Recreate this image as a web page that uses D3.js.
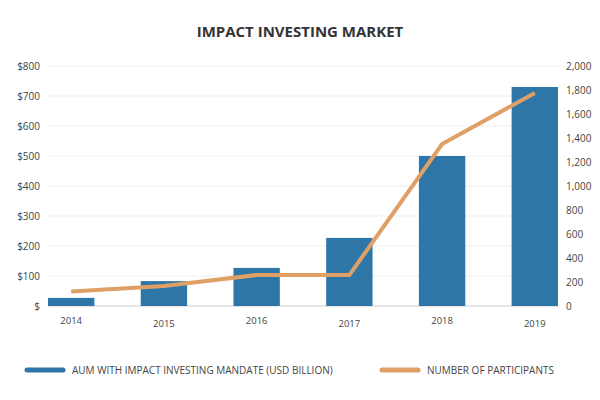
<!DOCTYPE html><html><head><meta charset="utf-8"><script src="https://d3js.org/d3.v7.min.js"></script>
<style>body{margin:0;background:#fff}text{font-family:"Open Sans",Lato,sans-serif}</style></head><body><svg width="600" height="400"></svg>
<script>
const years=["2014","2015","2016","2017","2018","2019"];
const aum=[27,83,127,227,500,730];
const participants=[120,167,258,258,1350,1775];
const leftTicks=[0,100,200,300,400,500,600,700,800];
const rightTicks=[0,200,400,600,800,1000,1200,1400,1600,1800,2000];
const svg=d3.select("svg");
const x=d3.scaleBand().domain(years).range([48,558]).paddingInner(0.5).paddingOuter(0);
const yL=d3.scaleLinear().domain([0,800]).range([306,66]);
const yR=d3.scaleLinear().domain([0,2000]).range([306,66]);
svg.append("text").attr("x",300).attr("y",37).attr("text-anchor","middle").attr("font-size",15).attr("font-weight","bold").attr("fill","#333").text("IMPACT INVESTING MARKET");
svg.append("g").selectAll("line").data(leftTicks).join("line").attr("x1",48).attr("x2",558).attr("y1",d=>yL(d)).attr("y2",d=>yL(d)).attr("stroke",d=>d===0?"#ccc":"#eee");
svg.append("g").selectAll("text").data(leftTicks).join("text").attr("x",40).attr("y",d=>yL(d)+4).attr("text-anchor","end").attr("font-size",10).attr("fill","#444").text(d=>d===0?"$":"$"+d);
svg.append("g").selectAll("text").data(rightTicks).join("text").attr("x",566).attr("y",d=>yR(d)+4).attr("font-size",10).attr("fill","#444").text(d=>d3.format(",")(d));
svg.append("g").selectAll("rect").data(aum).join("rect").attr("x",(d,i)=>x(years[i])).attr("width",x.bandwidth()).attr("y",d=>yL(d)).attr("height",d=>306-yL(d)).attr("fill","#2e75a8");
svg.append("g").selectAll("text").data(years).join("text").attr("x",d=>x(d)+x.bandwidth()/2).attr("y",(d,i)=>i%2?327:324).attr("text-anchor","middle").attr("font-size",9.5).attr("fill","#444").text(d=>d);
svg.append("path").datum(participants).attr("fill","none").attr("stroke","#dfa066").attr("stroke-width",4)
 .attr("d",d3.line().x((d,i)=>x(years[i])+x.bandwidth()/2).y(d=>yR(d)));
const leg=[{t:"AUM WITH IMPACT INVESTING MANDATE (USD BILLION)",c:"#2e75a8",x:25},{t:"NUMBER OF PARTICIPANTS",c:"#dfa066",x:380}];
leg.forEach(l=>{svg.append("line").attr("x1",l.x+2).attr("x2",l.x+38).attr("y1",370).attr("y2",370).attr("stroke",l.c).attr("stroke-width",5).attr("stroke-linecap","round");
svg.append("text").attr("x",l.x+47).attr("y",374).attr("font-size",10).attr("fill","#444").text(l.t);});
</script></body></html>
